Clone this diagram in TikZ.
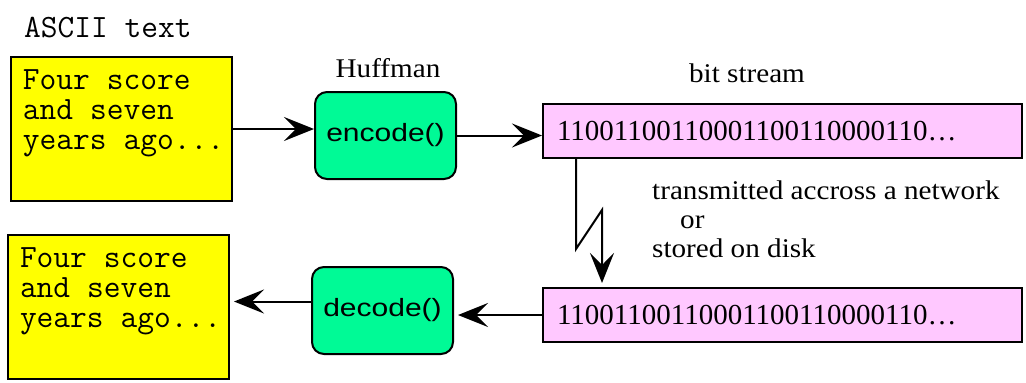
\documentclass[tikz,border=0pt]{standalone}
\usepackage{fontspec}
\usepackage{tikz}
\usetikzlibrary{arrows.meta,positioning}
\setmainfont{Liberation Serif}
\newfontfamily\romanfont[FakeStretch=1.08]{Liberation Serif}
\newfontfamily\funcfont[FakeStretch=1.2]{Liberation Sans}
\definecolor{myyellow}{RGB}{255,255,0}
\definecolor{mygreen}{RGB}{0,250,150}
\definecolor{mypink}{RGB}{255,200,255}
\newcommand{\widthfunc}{141pt}
\newcommand{\widthbits}{479pt}
\newcommand{\asciifont}{\ttfamily\fontsize{32.5}{30}\selectfont}
\newcommand{\gettysburg}{\parbox[t][118pt][t]{197pt}{\spaceskip=0.525em\relax Four~score\\and~seven\\years~ago...}}
\tikzset{
    common/.style={draw, line width=2pt},
    textbox/.style={common, anchor=north west, fill=myyellow, inner xsep=12pt, inner ysep=13pt, font=\asciifont},
    func/.style={common, fill=mygreen, rounded corners=12pt, minimum width=\widthfunc, minimum height=87pt, font=\funcfont\fontsize{25}{28}\selectfont},
    bits/.style={common, anchor=north west, fill=mypink, minimum width=\widthbits, minimum height=54pt, text width=451pt, align=left, inner xsep=14pt, inner ysep=0pt, font=\fontsize{29}{30}\selectfont},
    caption/.style={inner sep=0pt, font=\romanfont\fontsize{27}{29}\selectfont},
    arr/.style={line width=2pt, -{Stealth[length=30pt,width=24pt,inset=12pt]}}
}
\begin{document}
\begin{tikzpicture}[x=1pt, y=-1pt]
    \useasboundingbox (0,0) rectangle (1026,383);

    \node[textbox] (asciiin) at (10,56) {\gettysburg};
    \node[textbox] (asciiout) at (7,234) {\gettysburg};
    \node[func] (encode) at (385.5,135.5) {encode()};
    \node[func] (decode) at (382.5,310.5) {decode()};
    \node[bits] (bitsA) at (542,103) {11001100110001100110000110…};
    \node[bits] (bitsB) at (542,287) {11001100110001100110000110…};

    \node[anchor=west, inner sep=0pt, font=\asciifont] (ascii) at (24,28) {ASCII text};
    \node[caption] (huffman) at (388,68) {Huffman};
    \node[caption] (stream) at (747,73) {bit stream};
    \node[caption, align=left, anchor=north west] (medium) at (652,181) {transmitted accross a network\\\hspace{28pt}or\\stored on disk};

    \draw[arr] (asciiin.east) -- (asciiin.east -| encode.west);
    \draw[arr] (encode.east) -- (encode.east -| bitsA.west);
    \draw[arr, shorten >=4pt] (bitsB.west) -- (bitsB.west -| decode.east);
    \draw[arr, shorten >=4pt] ([yshift=9pt]decode.west) -- ([yshift=9pt]decode.west -| asciiout.east);
    \draw[arr, shorten >=4pt] ([xshift=34pt]bitsA.south west) -- ++(0,90) -- ++(26,-39) coordinate (bolt) -- (bolt |- bitsB.north);
\end{tikzpicture}
\end{document}
